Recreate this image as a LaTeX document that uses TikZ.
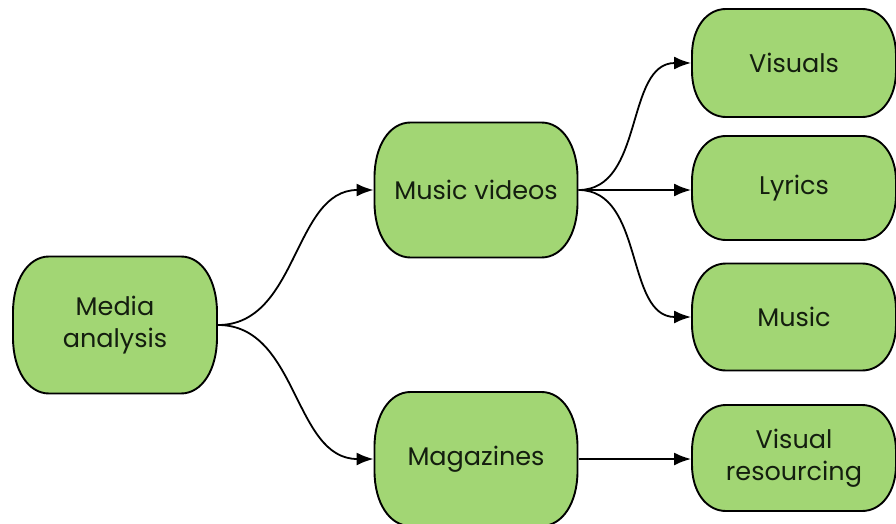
\documentclass[tikz,border=0pt]{standalone}
\usepackage{fontspec}
\setmainfont{Poppins}
\usetikzlibrary{arrows.meta}
\definecolor{boxgreen}{RGB}{162,214,116}
\definecolor{txt}{RGB}{20,30,15}
\tikzset{
  boxline/.style={draw=black, line width=1.9pt, fill=boxgreen},
  boxtext/.style={align=center, text=txt, font=\fontsize{25.5}{32}\selectfont,
    inner sep=0pt, outer sep=1pt},
  conn/.style={line width=1.8pt, -{Latex[length=17pt,width=13pt]}}
}
% name, cx, cy, w, h, rx, ry, text
\newcommand\rbox[8]{%
  \pgfmathsetmacro\bL{#2-#4/2}\pgfmathsetmacro\bR{#2+#4/2}%
  \pgfmathsetmacro\bT{#3-#5/2}\pgfmathsetmacro\bB{#3+#5/2}%
  \pgfmathsetmacro\kx{0.58*#6}\pgfmathsetmacro\ky{0.58*#7}%
  \draw[boxline] (\bL+#6,\bT) -- (\bR-#6,\bT)
    .. controls (\bR-#6+\kx,\bT) and (\bR,\bT+#7-\ky) .. (\bR,\bT+#7)
    -- (\bR,\bB-#7)
    .. controls (\bR,\bB-#7+\ky) and (\bR-#6+\kx,\bB) .. (\bR-#6,\bB)
    -- (\bL+#6,\bB)
    .. controls (\bL+#6-\kx,\bB) and (\bL,\bB-#7+\ky) .. (\bL,\bB-#7)
    -- (\bL,\bT+#7)
    .. controls (\bL,\bT+#7-\ky) and (\bL+#6-\kx,\bT) .. (\bL+#6,\bT) -- cycle;
  \node[boxtext, minimum width=#4pt, minimum height=#5pt] (#1) at (#2,#3) {#8};
}
\begin{document}
\begin{tikzpicture}[x=1pt,y=-1pt]
\useasboundingbox (0,0) rectangle (896,524);
\rbox{media}{115}{325}{204}{137}{36}{56}{Media\\analysis}
\rbox{mv}{476}{190}{203}{135}{36}{55}{Music videos}
\rbox{mag}{476}{459}{203}{134}{36}{55}{Magazines}
\rbox{vis}{794}{63}{204}{108}{34}{46}{Visuals}
\rbox{lyr}{794}{188}{204}{104}{34}{45}{Lyrics}
\rbox{mus}{794}{317}{204}{107}{34}{46}{Music}
\rbox{vres}{794}{458}{204}{106}{34}{46}{Visual\\resourcing}
\draw[conn] (media.east) to[out=0,in=180] (mv.west);
\draw[conn] (media.east) to[out=0,in=180] (mag.west);
\draw[conn] (mv.east) to[out=0,in=180] (vis.west);
\draw[conn] (mv.east) -- (lyr.west |- mv.east);
\draw[conn] (mv.east) to[out=0,in=180] (mus.west);
\draw[conn] (mag.east) -- (vres.west |- mag.east);
\end{tikzpicture}
\end{document}
